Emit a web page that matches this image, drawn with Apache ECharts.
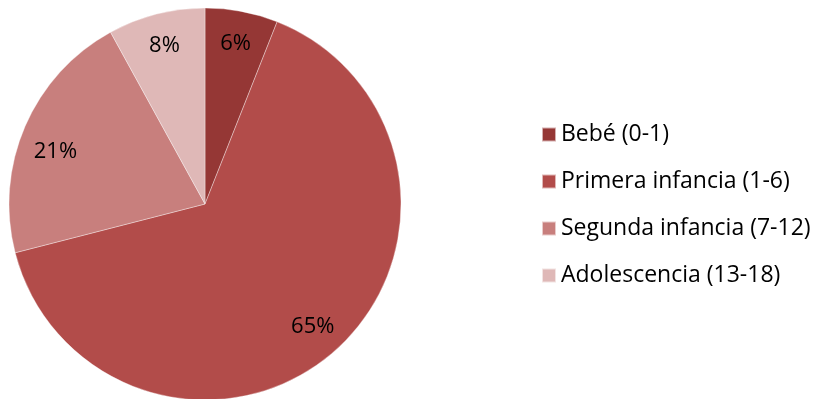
<!DOCTYPE html>
<html>
<head>
<meta charset="utf-8">
<script src="https://cdn.jsdelivr.net/npm/echarts@6/dist/echarts.min.js"></script>
<style>
  html, body { margin: 0; padding: 0; background: #fff; }
  #chart { width: 819px; height: 399px; }
</style>
</head>
<body>
<div id="chart"></div>
<script>
// Age groups and their shares (%)
const categories = ['Bebé (0-1)', 'Primera infancia (1-6)', 'Segunda infancia (7-12)', 'Adolescencia (13-18)'];
const shares = [6, 65, 21, 8];
const colors = ['#953735', '#B24C4A', '#C87F7D', '#DFB8B7'];

const FONT = '"Open Sans", "Liberation Sans", Arial, sans-serif';

const pieData = categories.map((name, i) => ({
  name,
  value: shares[i],
  itemStyle: { color: colors[i] }
}));

const chart = echarts.init(document.getElementById('chart'), null, { renderer: 'canvas' });
chart.setOption({
  animation: false,
  legend: {
    orient: 'vertical',
    left: 536,
    top: 118,
    itemWidth: 14,
    itemHeight: 14,
    itemGap: 24,
    icon: 'rect',
    textStyle: { fontFamily: FONT, fontSize: 23, lineHeight: 23, color: '#000', padding: [0, 0, 0, 0] },
    data: categories
  },
  series: [
    {
      type: 'pie',
      center: [205, 204],
      radius: [0, 196],
      startAngle: 90,
      clockwise: true,
      silent: true,
      label: { show: false },
      labelLine: { show: false },
      itemStyle: { borderColor: 'rgba(255,255,255,0.6)', borderWidth: 0.6 },
      data: pieData
    },
    {
      // Transparent ring that only carries the percentage labels
      type: 'pie',
      center: [205, 204],
      radius: [124, 196],
      startAngle: 90,
      clockwise: true,
      silent: true,
      itemStyle: { color: 'rgba(0,0,0,0)' },
      label: {
        show: true,
        position: 'inside',
        formatter: '{c}%',
        fontFamily: FONT,
        fontSize: 22,
        color: '#000'
      },
      labelLine: { show: false },
      data: categories.map((name, i) => ({
        name: name + ' ',
        value: shares[i],
        label: i === 2 ? { offset: [0, 12] } : undefined
      }))
    }
  ]
});
</script>
</body>
</html>
